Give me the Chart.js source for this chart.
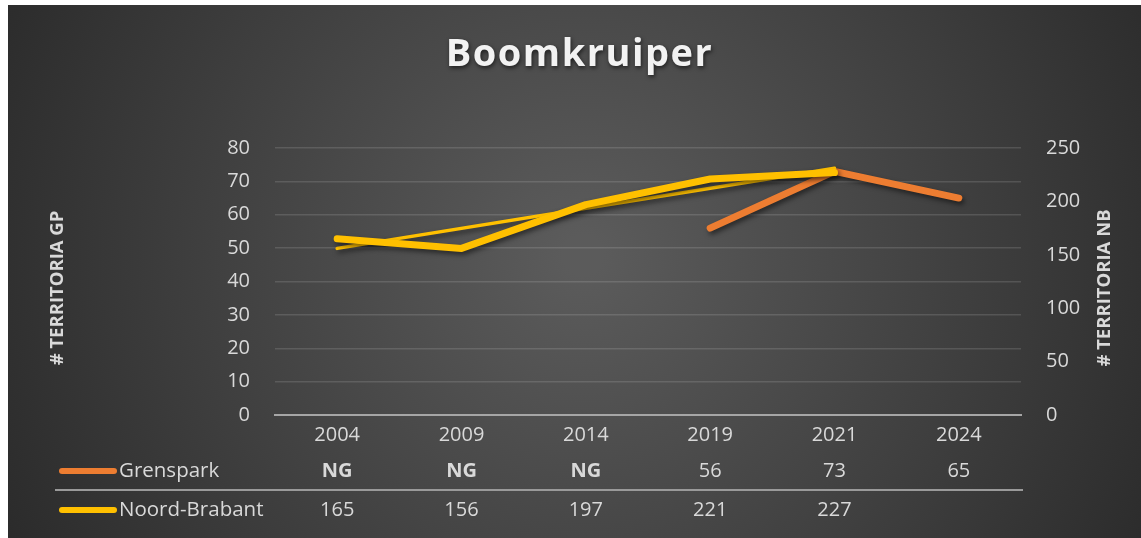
<!DOCTYPE html>
<html>
<head>
<meta charset="utf-8">
<script src="https://cdn.jsdelivr.net/npm/chart.js@4/dist/chart.umd.min.js"></script>
<style>
  html, body { margin: 0; background: #ffffff; }
  #wrap { position: absolute; left: 8px; top: 5px; width: 1133px; height: 533px; }
</style>
</head>
<body>
<div id="wrap"><canvas id="chart"></canvas></div>
<script>
// data
const years = ['2004', '2009', '2014', '2019', '2021', '2024']
const grenspark = [null, null, null, 56, 73, 65]
const noordBrabant = [165, 156, 197, 221, 227, null]
const nbTrend = [156, null, null, null, 231, null]   // Excel linear trendline, endpoints
const gpTicks = [0, 10, 20, 30, 40, 50, 60, 70, 80]
const nbTicks = [0, 50, 100, 150, 200, 250]

const FONT = '"Open Sans", "Noto Sans", sans-serif'
const TEXT = '#d9d9d9'
const ORANGE = '#ED7D31'
const YELLOW = '#FFC000'

const decor = {
  id: 'decor',
  beforeDraw(chart) {
    const { ctx, width, height } = chart
    const g = ctx.createRadialGradient(575, 250, 20, 575, 250, 720)
    g.addColorStop(0, '#5b5b5b')
    g.addColorStop(1, '#252525')
    ctx.save()
    ctx.fillStyle = g
    ctx.fillRect(0, 0, width, height)
    ctx.restore()
  },
  beforeDatasetsDraw(chart) {
    const ctx = chart.ctx
    ctx.save()
    ctx.shadowColor = 'rgba(0, 0, 0, 0.5)'
    ctx.shadowBlur = 5
    ctx.shadowOffsetX = 2
    ctx.shadowOffsetY = 3
  },
  afterDatasetsDraw(chart) {
    chart.ctx.restore()
  },
  afterDraw(chart) {
    const { ctx, width } = chart
    const x = chart.scales.x
    ctx.save()

    // title
    ctx.shadowColor = 'rgba(0, 0, 0, 0.6)'
    ctx.shadowBlur = 4
    ctx.shadowOffsetX = 1
    ctx.shadowOffsetY = 2
    ctx.fillStyle = '#f2f2f2'
    ctx.font = `bold 38px ${FONT}`
    ctx.letterSpacing = '1.5px'
    ctx.textAlign = 'center'
    ctx.textBaseline = 'alphabetic'
    ctx.fillText('Boomkruiper', width / 2 + 5, 61)
    ctx.letterSpacing = '0px'
    ctx.shadowColor = 'transparent'

    // axis titles
    ctx.fillStyle = TEXT
    ctx.font = `bold 18.5px ${FONT}`
    ctx.textBaseline = 'middle'
    ctx.save()
    ctx.translate(50, 283)
    ctx.rotate(-Math.PI / 2)
    ctx.fillText('# TERRITORIA GP', 0, 0)
    ctx.restore()
    ctx.save()
    ctx.translate(1097, 283)
    ctx.rotate(-Math.PI / 2)
    ctx.fillText('# TERRITORIA NB', 0, 0)
    ctx.restore()

    // data table
    ctx.strokeStyle = '#9a9a9a'
    ctx.lineWidth = 2
    ctx.beginPath()
    ctx.moveTo(47, 485)
    ctx.lineTo(1015, 485)
    ctx.stroke()

    const rows = [
      { name: 'Grenspark', color: ORANGE, values: grenspark, missing: 'NG', y: 466 },
      { name: 'Noord-Brabant', color: YELLOW, values: noordBrabant, missing: '', y: 505 },
    ]
    rows.forEach((row) => {
      ctx.strokeStyle = row.color
      ctx.lineWidth = 6
      ctx.lineCap = 'round'
      ctx.beginPath()
      ctx.moveTo(54, row.y)
      ctx.lineTo(106, row.y)
      ctx.stroke()

      ctx.fillStyle = TEXT
      ctx.font = `20.5px ${FONT}`
      ctx.textAlign = 'left'
      ctx.fillText(row.name, 111, row.y)

      ctx.textAlign = 'center'
      row.values.forEach((v, i) => {
        const px = x.getPixelForValue(i)
        if (v === null) {
          ctx.font = `bold 20px ${FONT}`
          ctx.fillText(row.missing, px, row.y)
        } else {
          ctx.font = `20px ${FONT}`
          ctx.fillText(String(v), px, row.y)
        }
      })
    })
    ctx.restore()
  },
}

const lineStyle = {
  borderWidth: 7,
  pointRadius: 0,
  pointHoverRadius: 0,
  borderCapStyle: 'round',
  borderJoinStyle: 'round',
  tension: 0,
}

new Chart(document.getElementById('chart'), {
  type: 'line',
  data: {
    labels: years,
    datasets: [
      { label: 'Grenspark', data: grenspark, borderColor: ORANGE, yAxisID: 'y', order: 3, ...lineStyle },
      { label: 'Noord-Brabant', data: noordBrabant, borderColor: YELLOW, yAxisID: 'y1', order: 1, ...lineStyle },
      {
        label: 'Lineair (Noord-Brabant)', data: nbTrend, borderColor: YELLOW, yAxisID: 'y1', order: 2,
        ...lineStyle, borderWidth: 3.5, spanGaps: true,
      },
    ],
  },
  options: {
    responsive: true,
    maintainAspectRatio: false,
    animation: false,
    layout: { padding: { top: 143, bottom: 0, left: 0, right: 0 } },
    plugins: { legend: { display: false }, title: { display: false }, tooltip: { enabled: false } },
    scales: {
      x: {
        offset: true,
        afterFit: (s) => { s.height = 123 },
        grid: { display: false, drawTicks: false },
        border: { display: true, color: '#a6a6a6', width: 2 },
        ticks: { color: TEXT, padding: 8, font: { size: 20, family: FONT } },
      },
      y: {
        position: 'left',
        min: gpTicks[0],
        max: gpTicks[gpTicks.length - 1],
        afterFit: (s) => { s.width = 267 },
        afterBuildTicks: (s) => { s.ticks = gpTicks.map((v) => ({ value: v })) },
        grid: { color: 'rgba(255, 255, 255, 0.13)', lineWidth: 1.5, drawTicks: false },
        border: { display: false },
        ticks: { color: TEXT, padding: 25, font: { size: 20, family: FONT } },
      },
      y1: {
        position: 'right',
        min: nbTicks[0],
        max: nbTicks[nbTicks.length - 1],
        afterFit: (s) => { s.width = 120 },
        afterBuildTicks: (s) => { s.ticks = nbTicks.map((v) => ({ value: v })) },
        grid: { display: false, drawTicks: false },
        border: { display: false },
        ticks: { color: TEXT, padding: 25, font: { size: 20, family: FONT } },
      },
    },
  },
  plugins: [decor],
})
</script>
</body>
</html>
